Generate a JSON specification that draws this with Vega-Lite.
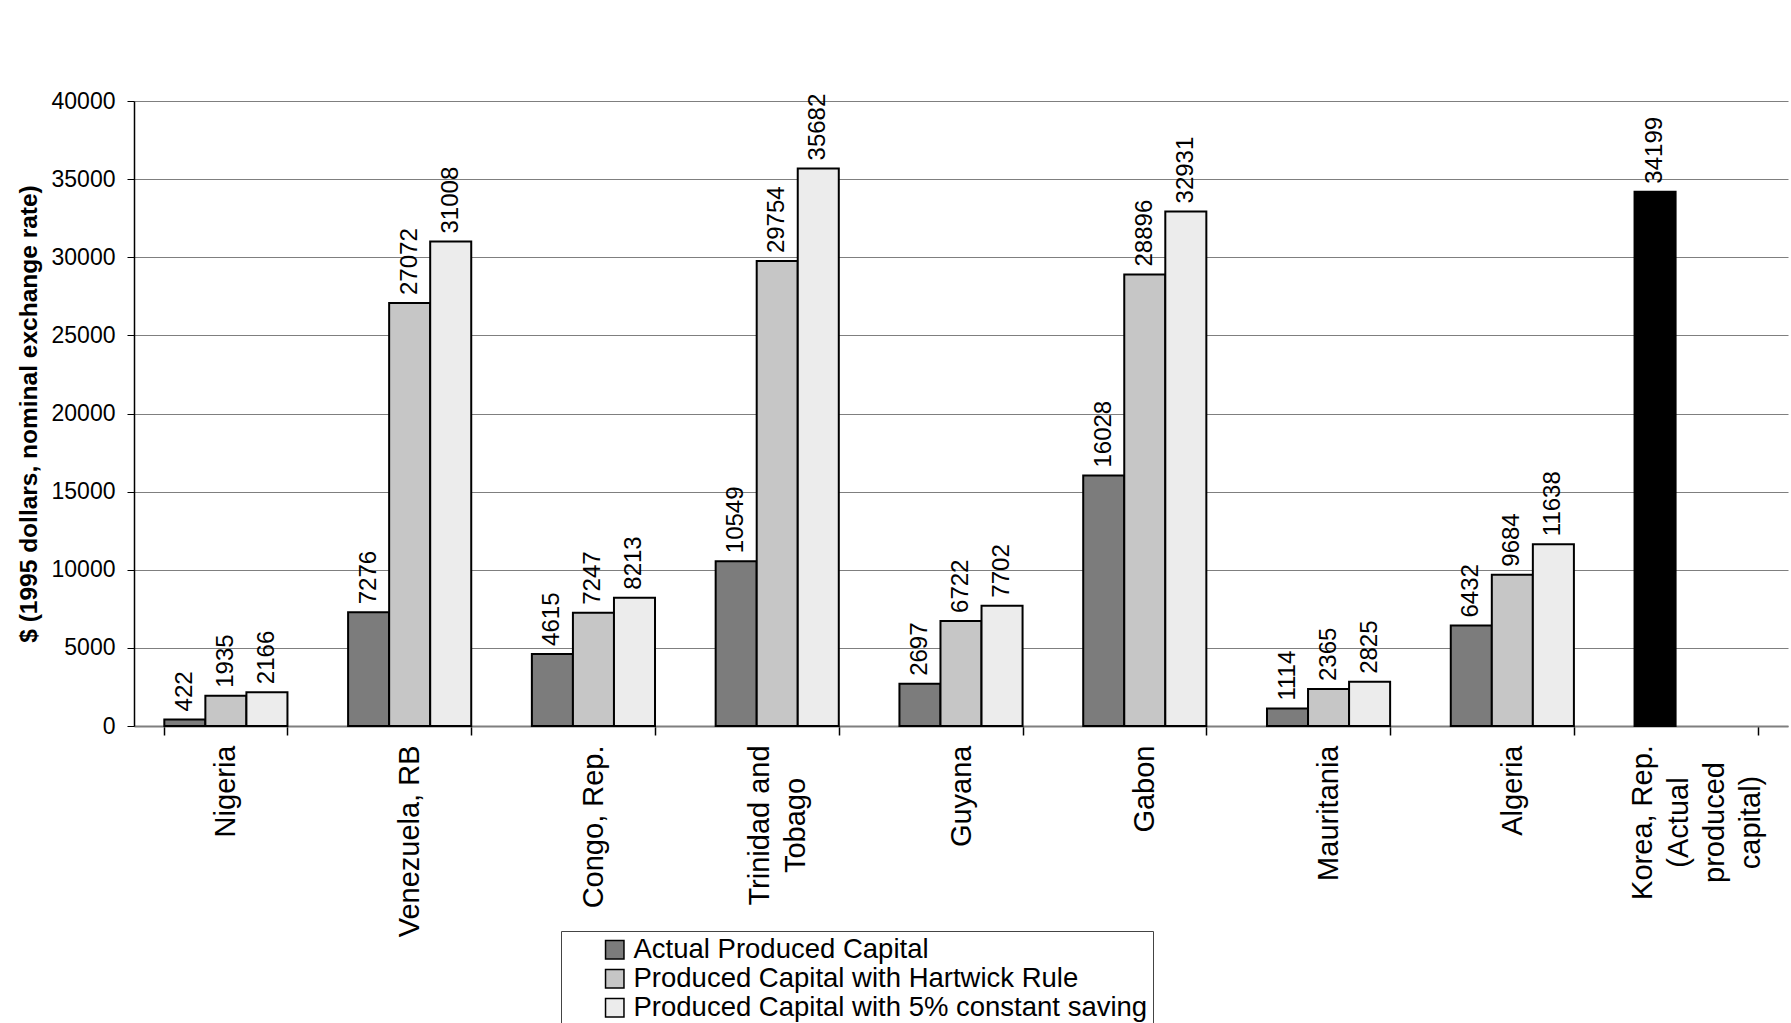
{
  "$schema": "https://vega.github.io/schema/vega-lite/v6.json",
  "width": 1654,
  "height": 625,
  "autosize": {"type": "none"},
  "padding": {"left": 134, "top": 101, "right": 3, "bottom": 297},
  "background": "white",
  "config": {"font": "Liberation Sans", "view": {"stroke": null}},
  "data": {
    "values": [
      {"country": "Nigeria", "series": "Actual Produced Capital", "value": 422},
      {"country": "Nigeria", "series": "Produced Capital with Hartwick Rule", "value": 1935},
      {"country": "Nigeria", "series": "Produced Capital with 5% constant saving", "value": 2166},
      {"country": "Venezuela, RB", "series": "Actual Produced Capital", "value": 7276},
      {"country": "Venezuela, RB", "series": "Produced Capital with Hartwick Rule", "value": 27072},
      {"country": "Venezuela, RB", "series": "Produced Capital with 5% constant saving", "value": 31008},
      {"country": "Congo, Rep.", "series": "Actual Produced Capital", "value": 4615},
      {"country": "Congo, Rep.", "series": "Produced Capital with Hartwick Rule", "value": 7247},
      {"country": "Congo, Rep.", "series": "Produced Capital with 5% constant saving", "value": 8213},
      {"country": "Trinidad and Tobago", "series": "Actual Produced Capital", "value": 10549},
      {"country": "Trinidad and Tobago", "series": "Produced Capital with Hartwick Rule", "value": 29754},
      {"country": "Trinidad and Tobago", "series": "Produced Capital with 5% constant saving", "value": 35682},
      {"country": "Guyana", "series": "Actual Produced Capital", "value": 2697},
      {"country": "Guyana", "series": "Produced Capital with Hartwick Rule", "value": 6722},
      {"country": "Guyana", "series": "Produced Capital with 5% constant saving", "value": 7702},
      {"country": "Gabon", "series": "Actual Produced Capital", "value": 16028},
      {"country": "Gabon", "series": "Produced Capital with Hartwick Rule", "value": 28896},
      {"country": "Gabon", "series": "Produced Capital with 5% constant saving", "value": 32931},
      {"country": "Mauritania", "series": "Actual Produced Capital", "value": 1114},
      {"country": "Mauritania", "series": "Produced Capital with Hartwick Rule", "value": 2365},
      {"country": "Mauritania", "series": "Produced Capital with 5% constant saving", "value": 2825},
      {"country": "Algeria", "series": "Actual Produced Capital", "value": 6432},
      {"country": "Algeria", "series": "Produced Capital with Hartwick Rule", "value": 9684},
      {"country": "Algeria", "series": "Produced Capital with 5% constant saving", "value": 11638},
      {"country": "Korea, Rep. (Actual produced capital)", "series": "Actual Produced Capital", "value": 34199}
    ]
  },
  "encoding": {
    "x": {
      "field": "country",
      "type": "nominal",
      "sort": null,
      "scale": {"paddingInner": 0.33, "paddingOuter": 0.165},
      "axis": {
        "title": null,
        "labelAngle": -90,
        "labelFontSize": 29,
        "labelColor": "black",
        "labelPadding": {"condition": [{"test": "datum.value == 'Trinidad and Tobago'", "value": 90}, {"test": "datum.value == 'Korea, Rep. (Actual produced capital)'", "value": 87}], "value": 10},
        "labelAlign": {"condition": {"test": "datum.value == 'Trinidad and Tobago' || datum.value == 'Korea, Rep. (Actual produced capital)'", "value": "center"}, "value": "right"},
        "labelOffset": {"condition": [{"test": "datum.value == 'Trinidad and Tobago'", "value": -18}, {"test": "datum.value == 'Korea, Rep. (Actual produced capital)'", "value": -54}], "value": 0},
        "labelLimit": 0,
        "labelLineHeight": 36,
        "labelExpr": "datum.value == 'Trinidad and Tobago' ? ['Trinidad and', 'Tobago'] : datum.value == 'Korea, Rep. (Actual produced capital)' ? ['Korea, Rep.', '(Actual', 'produced', 'capital)'] : datum.value",
        "tickSize": 9,
        "tickBand": "extent",
        "tickColor": "black",
        "tickWidth": 1.5,
        "domainColor": "#7f7f7f",
        "domainWidth": 2,
        "grid": false
      }
    },
    "xOffset": {
      "field": "series",
      "type": "nominal",
      "sort": ["Actual Produced Capital", "Produced Capital with Hartwick Rule", "Produced Capital with 5% constant saving"],
      "scale": {"paddingInner": 0, "paddingOuter": 0}
    },
    "y": {
      "field": "value",
      "type": "quantitative",
      "scale": {"domain": [0, 40000], "nice": false},
      "axis": {
        "title": "$ (1995 dollars, nominal exchange rate)",
        "titleFontSize": 24.5,
        "titleFontWeight": "bold",
        "titleColor": "black",
        "titlePadding": 10,
        "values": [0, 5000, 10000, 15000, 20000, 25000, 30000, 35000, 40000],
        "format": "d",
        "labelFontSize": 23,
        "labelColor": "black",
        "labelPadding": 12,
        "tickSize": 7,
        "tickColor": "black",
        "domainColor": "black",
        "domainWidth": 1.5,
        "grid": true,
        "gridColor": "#7f7f7f",
        "gridWidth": 1
      }
    }
  },
  "layer": [
    {
      "mark": {"type": "bar", "stroke": "black", "strokeWidth": 2},
      "encoding": {
        "fill": {
          "condition": {"test": "datum.country === 'Korea, Rep. (Actual produced capital)'", "value": "black"},
          "field": "series",
          "type": "nominal",
          "sort": ["Actual Produced Capital", "Produced Capital with Hartwick Rule", "Produced Capital with 5% constant saving"],
          "scale": {
            "domain": ["Actual Produced Capital", "Produced Capital with Hartwick Rule", "Produced Capital with 5% constant saving"],
            "range": ["#7c7c7c", "#c6c6c6", "#ececec"]
          },
          "legend": {
            "title": null,
            "orient": "none",
            "legendX": 427,
            "legendY": 830,
            "direction": "vertical",
            "strokeColor": "#444444",
            "fillColor": "white",
            "padding": 5,
            "symbolType": "square",
            "symbolSize": 340,
            "symbolStrokeColor": "black",
            "symbolStrokeWidth": 1.5,
            "symbolOffset": 35,
            "labelFontSize": 27.5,
            "labelColor": "black",
            "labelOffset": 5,
            "labelLimit": 0,
            "rowPadding": 0
          }
        }
      }
    },
    {
      "mark": {"type": "text", "angle": -90, "align": "left", "baseline": "middle", "dx": 8, "fontSize": 24, "color": "black"},
      "encoding": {
        "text": {"field": "value", "type": "quantitative", "format": "d"}
      }
    }
  ]
}
